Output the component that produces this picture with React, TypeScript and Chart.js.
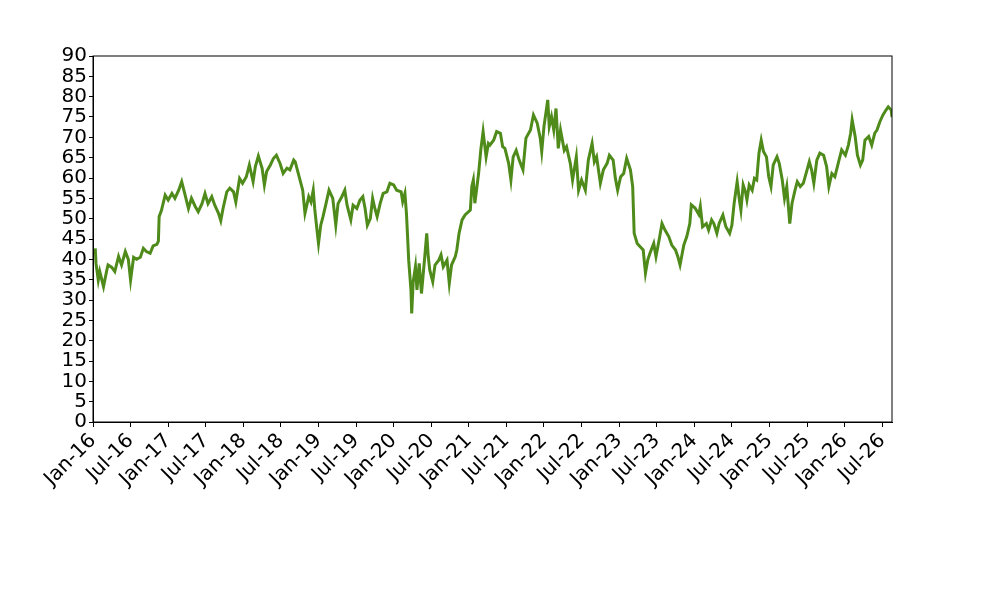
import { Chart, registerables } from "chart.js"
import React, { useEffect, useRef } from "react"

Chart.register(...registerables)

// years since Jan-2016
const dates = [
  0.03, 0.04, 0.07, 0.09, 0.14, 0.18, 0.2, 0.25, 0.29, 0.34, 0.38, 0.43, 0.47, 0.5, 0.54, 0.58, 0.63, 0.67, 0.71,
  0.76, 0.8, 0.85, 0.87, 0.88, 0.91, 0.96, 1.0, 1.05, 1.09, 1.14, 1.18, 1.22, 1.27, 1.31, 1.36, 1.4, 1.45, 1.49,
  1.53, 1.58, 1.62, 1.67, 1.7, 1.73, 1.78, 1.82, 1.87, 1.9, 1.95, 1.99, 2.04, 2.08, 2.13, 2.16, 2.2, 2.25, 2.28,
  2.31, 2.36, 2.4, 2.44, 2.49, 2.53, 2.58, 2.62, 2.67, 2.69, 2.73, 2.79, 2.82, 2.87, 2.9, 2.93, 2.95, 2.98, 3.0,
  3.03, 3.06, 3.1, 3.14, 3.19, 3.23, 3.26, 3.31, 3.35, 3.38, 3.43, 3.46, 3.51, 3.55, 3.59, 3.62, 3.65, 3.69, 3.72,
  3.75, 3.78, 3.82, 3.86, 3.91, 3.95, 4.0, 4.04, 4.1, 4.12, 4.15, 4.17, 4.18, 4.2, 4.23, 4.24, 4.26, 4.29, 4.31,
  4.34, 4.37, 4.41, 4.44, 4.46, 4.48, 4.52, 4.55, 4.6, 4.63, 4.66, 4.71, 4.74, 4.77, 4.82, 4.84, 4.87, 4.91, 4.95,
  5.02, 5.04, 5.06, 5.08, 5.13, 5.16, 5.19, 5.23, 5.26, 5.28, 5.33, 5.37, 5.42, 5.45, 5.48, 5.53, 5.56, 5.59, 5.63,
  5.67, 5.72, 5.76, 5.82, 5.86, 5.91, 5.95, 5.97, 6.0, 6.05, 6.07, 6.1, 6.13, 6.16, 6.19, 6.22, 6.27, 6.3, 6.35,
  6.38, 6.43, 6.46, 6.5, 6.55, 6.59, 6.64, 6.67, 6.7, 6.75, 6.79, 6.84, 6.87, 6.92, 6.95, 6.98, 7.02, 7.06, 7.1,
  7.15, 7.18, 7.2, 7.24, 7.28, 7.32, 7.35, 7.38, 7.41, 7.46, 7.49, 7.54, 7.57, 7.61, 7.66, 7.7, 7.75, 7.78, 7.81,
  7.86, 7.9, 7.94, 7.96, 8.01, 8.06, 8.08, 8.11, 8.16, 8.19, 8.23, 8.26, 8.3, 8.33, 8.38, 8.42, 8.47, 8.5, 8.53,
  8.57, 8.6, 8.62, 8.65, 8.68, 8.7, 8.73, 8.77, 8.8, 8.83, 8.86, 8.89, 8.92, 8.96, 8.99, 9.02, 9.05, 9.1, 9.13,
  9.17, 9.2, 9.23, 9.27, 9.3, 9.34, 9.37, 9.41, 9.45, 9.5, 9.53, 9.56, 9.59, 9.63, 9.67, 9.72, 9.76, 9.79, 9.83,
  9.87, 9.92, 9.96, 10.01, 10.05, 10.08, 10.1, 10.14, 10.17, 10.21, 10.24, 10.27, 10.32, 10.36, 10.4, 10.43, 10.47,
  10.51, 10.55, 10.58, 10.62, 10.63,
]

const prices = [
  42.7, 39, 34.9, 37, 33.3, 37, 38.6, 38, 37, 40.7, 38.6, 41.9, 40, 34.9, 40.5, 40, 40.5, 42.7, 41.9,
  41.5, 43.3, 43.7, 44.5, 50.5, 52, 55.8, 54.6, 56.2, 55, 57, 59.1, 56.2, 52.5, 55, 53, 51.7, 53.7, 56.2,
  53.7, 55.4, 53.3, 51.3, 49.5, 52.5, 56.6, 57.5, 56.6, 54.1, 59.9, 58.7, 60.3, 63.2, 59.1, 62.8, 65.4, 62.4, 58.3,
  61.6, 63.2, 64.8, 65.6, 63.5, 61.1, 62.4, 62, 64.4, 64, 61.2, 57, 51.3, 55.4, 54.1, 57, 52.4, 47.2, 43.9,
  48.4, 50.5, 53.7, 57, 55, 48.4, 53.7, 55.4, 57, 53.3, 49.7, 53.3, 52.5, 54.5, 55.4, 52.5, 48.4, 50.1, 55,
  52.5, 50.5, 53.7, 56.2, 56.6, 58.7, 58.3, 57, 56.6, 54.2, 56.2, 51.3, 47.6, 39.8, 32.5, 26.7, 34.5, 38.2, 32.5,
  39, 31.6, 39.8, 46.4, 40.7, 37.4, 34.5, 38.6, 39.8, 41.1, 38.2, 39.8, 34.1, 38.6, 40.7, 42.3, 46.4, 49.7, 50.9,
  52.1, 57.9, 59.5, 53.8, 61.1, 67, 71.4, 65.2, 68.5, 68.1, 69.3, 71.4, 71, 67.7, 67.3, 63.6, 59.5, 65.2, 66.8,
  64.4, 62, 69.8, 71.8, 75.5, 73.5, 69.8, 66.5, 72.7, 79.2, 72.7, 75.1, 71.8, 77.1, 67.3, 71.8, 66.8, 67.7, 63.6,
  59.5, 65.2, 57, 59.5, 57, 64.4, 68.5, 64, 65.2, 58.7, 62, 63.6, 65.6, 64.4, 59.9, 57, 60.3, 61.1, 64.8,
  62, 57.9, 46.4, 43.9, 43.1, 42.3, 36.6, 39.8, 41.5, 43.9, 40.7, 45.6, 48.8, 47.2, 45.6, 43.5, 42.3, 40.7, 38.6,
  43.5, 45.6, 48.8, 53.4, 52.6, 51, 53, 48, 48.8, 47.2, 49.7, 48.8, 46.4, 48.8, 50.9, 48, 46.4, 48.4, 53.8,
  59.1, 54.6, 52.1, 58.3, 56.6, 54.6, 58.3, 57, 59.9, 59.5, 66.1, 69.3, 66.5, 65.2, 60.3, 57.9, 63.2, 65.2, 63.6,
  59.5, 55, 57.9, 48.8, 53.8, 57, 59.1, 57.9, 58.7, 62, 64, 62, 58.7, 64.4, 66.1, 65.6, 62.8, 57.9, 61.1,
  60.3, 64, 66.9, 65.6, 68.1, 71, 74.3, 70.2, 65.6, 63.2, 64.4, 69.3, 70.2, 68.1, 71, 71.8, 73.9,
  75.5, 76.7, 77.5, 76.7, 75,
]

const tickLabels = [
  "Jan-16", "Jul-16", "Jan-17", "Jul-17", "Jan-18", "Jul-18", "Jan-19", "Jul-19", "Jan-20", "Jul-20", "Jan-21",
  "Jul-21", "Jan-22", "Jul-22", "Jan-23", "Jul-23", "Jan-24", "Jul-24", "Jan-25", "Jul-25", "Jan-26", "Jul-26",
]

const font = { family: "'DejaVu Sans'", size: 20 }

// matplotlib-style box round the plot
const framePlugin = {
  id: "frame",
  afterDraw(chart: Chart) {
    const { ctx, chartArea } = chart
    ctx.save()
    ctx.strokeStyle = "#000"
    ctx.lineWidth = 1
    ctx.strokeRect(chartArea.left, chartArea.top, chartArea.right - chartArea.left, chartArea.bottom - chartArea.top)
    ctx.restore()
  },
}

const App: React.FC = () => {
  const chartRef = useRef<HTMLCanvasElement>(null)
  const chartInstanceRef = useRef<Chart | null>(null)

  useEffect(() => {
    const ctx = chartRef.current?.getContext("2d")

    if (ctx) {
      chartInstanceRef.current = new Chart(ctx, {
        type: "line",
        data: {
          datasets: [
            {
              data: dates.map((d, i) => ({ x: d, y: prices[i] })),
              borderColor: "#4f8b1a",
              borderWidth: 3,
              pointRadius: 0,
              tension: 0,
            },
          ],
        },
        options: {
          animation: false,
          responsive: false,
          layout: { padding: { left: 0, top: 56, right: 108, bottom: 0 } },
          plugins: {
            legend: { display: false },
            tooltip: { enabled: false },
          },
          scales: {
            x: {
              type: "linear",
              min: 0,
              max: dates[dates.length - 1],
              afterFit: (scale) => {
                scale.height = 178
              },
              grid: { drawOnChartArea: false, color: "#000", tickLength: 5 },
              border: { color: "#000" },
              ticks: {
                stepSize: 0.5,
                includeBounds: false,
                autoSkip: false,
                maxRotation: 45,
                minRotation: 45,
                padding: 2,
                color: "#000",
                font,
                callback: (value) => tickLabels[Math.round(Number(value) * 2)] ?? "",
              },
            },
            y: {
              min: 0,
              max: 90,
              afterFit: (scale) => {
                scale.width = 93
              },
              grid: { drawOnChartArea: false, color: "#000", tickLength: 4 },
              border: { color: "#000" },
              ticks: {
                stepSize: 5,
                autoSkip: false,
                padding: 2,
                color: "#000",
                font,
              },
            },
          },
        },
        plugins: [framePlugin],
      })
    }

    return () => {
      chartInstanceRef.current?.destroy()
    }
  }, [])

  return (
    <div style={{ position: "absolute", left: 0, top: 0, width: 1000, height: 600 }}>
      <canvas ref={chartRef} width={1000} height={600} />
    </div>
  )
}

export default App
